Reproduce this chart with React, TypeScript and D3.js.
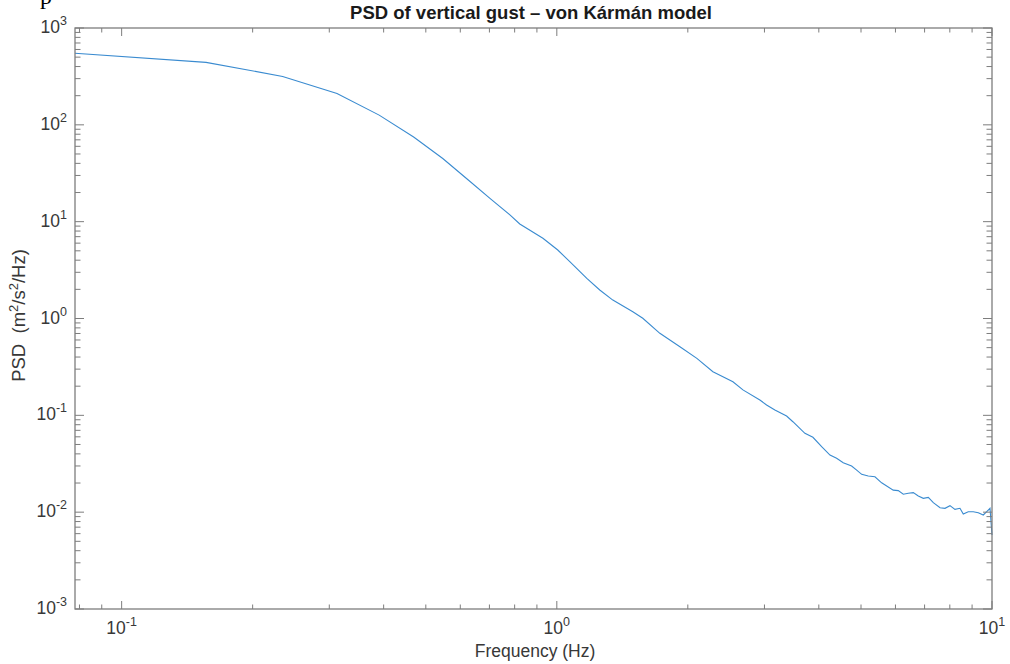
import React, { useRef, useEffect } from "react";
import * as d3 from "d3";

// PSD estimate (Hz, m^2/s^2/Hz)
const freq = [
  0.0781, 0.1563, 0.2344, 0.3125, 0.3906, 0.4688, 0.5469, 0.625, 0.7031, 0.7813,
  0.822, 0.929, 1.005, 1.071, 1.172, 1.255, 1.345, 1.495, 1.576, 1.725,
  1.918, 2.098, 2.284, 2.539, 2.677, 2.928, 3.034, 3.17, 3.373, 3.487,
  3.716, 3.877, 4.06, 4.243, 4.395, 4.551, 4.758, 4.887, 5.018, 5.195,
  5.383, 5.577, 5.93, 6.09, 6.254, 6.422, 6.594, 6.771, 6.953, 7.139,
  7.331, 7.596, 7.798, 8.006, 8.221, 8.441, 8.59, 8.82, 9.057, 9.301,
  9.55, 9.723, 9.895, 10,
];
const psd = [
  548, 442, 316, 211, 126, 74.9, 44.9, 27.1, 17.3, 11.7,
  9.46, 6.73, 5.1, 3.86, 2.6, 1.97, 1.55, 1.175, 1.005, 0.703,
  0.511, 0.388, 0.282, 0.222, 0.183, 0.144, 0.128, 0.1135, 0.0984, 0.0859,
  0.0652, 0.0593, 0.0474, 0.0389, 0.036, 0.0324, 0.03, 0.0272, 0.0246, 0.0236,
  0.0232, 0.0201, 0.0169, 0.0167, 0.0153, 0.0157, 0.0159, 0.0147, 0.0139, 0.0142,
  0.01253, 0.01112, 0.01096, 0.01167, 0.0107, 0.01096, 0.00957, 0.01011, 0.01011, 0.00987,
  0.00935, 0.01011, 0.01096, 0.0058,
];
const xDomain = [0.078125, 10];
const yDomain = [1e-3, 1e3];
const xMajor = [-1, 0, 1]; // exponents
const yMajor = [-3, -2, -1, 0, 1, 2, 3];

const title = "PSD of vertical gust \u2013 von K\u00e1rm\u00e1n model";
const xLabel = "Frequency (Hz)";

const W = 1010;
const H = 664;
const left = 75;
const right = 992;
const top = 28;
const bottom = 609;

const axisColor = "#7d7d7d";
const textColor = "#383838";
const font = "'Liberation Sans', Arial, Helvetica, sans-serif";

const PsdChart = () => {
  const ref = useRef<SVGSVGElement>(null);

  useEffect(() => {
    const svg = d3.select(ref.current);
    svg.selectAll("*").remove();

    const x = d3.scaleLog().domain(xDomain).range([left, right]);
    const y = d3.scaleLog().domain(yDomain).range([bottom, top]);

    const data = freq.map((f, i) => ({ f, v: psd[i] }));

    // stray glyph from the page above the figure (cut off at the top)
    svg
      .append("text")
      .attr("x", 40)
      .attr("y", 4)
      .attr("font-family", "'Liberation Serif', serif")
      .attr("font-size", 24)
      .attr("fill", "#000")
      .text("p");

    const line = d3
      .line<{ f: number; v: number }>()
      .x((d) => x(d.f))
      .y((d) => y(d.v))
      .curve(d3.curveLinear);

    svg
      .append("path")
      .datum(data)
      .attr("d", line)
      .attr("fill", "none")
      .attr("stroke", "#3a8bd0")
      .attr("stroke-width", 1.1);

    // frame
    svg
      .append("rect")
      .attr("x", left)
      .attr("y", top)
      .attr("width", right - left)
      .attr("height", bottom - top)
      .attr("fill", "none")
      .attr("stroke", axisColor)
      .attr("stroke-width", 1.3);

    const g = svg.append("g").attr("stroke", axisColor).attr("stroke-width", 1);

    // x ticks (bottom + top), inward
    const xt = x.ticks(20).filter((t) => t >= xDomain[0] && t <= xDomain[1]);
    xt.forEach((t) => {
      const isMajor = Math.abs(Math.log10(t) - Math.round(Math.log10(t))) < 1e-9;
      const len = isMajor ? 8 : 4.5;
      const px = x(t);
      g.append("line").attr("x1", px).attr("x2", px).attr("y1", bottom).attr("y2", bottom - len);
      g.append("line").attr("x1", px).attr("x2", px).attr("y1", top).attr("y2", top + len);
    });

    // y ticks (left + right), inward
    const yt = y.ticks(40).filter((t) => t >= yDomain[0] && t <= yDomain[1]);
    yt.forEach((t) => {
      const isMajor = Math.abs(Math.log10(t) - Math.round(Math.log10(t))) < 1e-9;
      const len = isMajor ? 9 : 5.5;
      const py = y(t);
      g.append("line").attr("x1", left).attr("x2", left + len).attr("y1", py).attr("y2", py);
      g.append("line").attr("x1", right).attr("x2", right - len).attr("y1", py).attr("y2", py);
    });

    // x tick labels
    xMajor.forEach((e) => {
      const t = svg
        .append("text")
        .attr("x", x(Math.pow(10, e)))
        .attr("y", 634)
        .attr("text-anchor", "middle")
        .attr("font-family", font)
        .attr("font-size", 17.5)
        .attr("fill", textColor);
      t.append("tspan").text("10");
      t.append("tspan").attr("dy", -8).attr("font-size", 12.5).text(String(e));
    });

    // y tick labels
    yMajor.forEach((e) => {
      const t = svg
        .append("text")
        .attr("x", 67)
        .attr("y", y(Math.pow(10, e)) + 5)
        .attr("text-anchor", "end")
        .attr("font-family", font)
        .attr("font-size", 17.5)
        .attr("fill", textColor);
      t.append("tspan").text("10");
      t.append("tspan").attr("dy", -8).attr("font-size", 12.5).text(String(e));
    });

    // title
    svg
      .append("text")
      .attr("x", 531)
      .attr("y", 19)
      .attr("text-anchor", "middle")
      .attr("font-family", font)
      .attr("font-size", 18.5)
      .attr("font-weight", "bold")
      .attr("fill", "#1a1a1a")
      .text(title);

    // x label
    svg
      .append("text")
      .attr("x", 535)
      .attr("y", 657)
      .attr("text-anchor", "middle")
      .attr("font-family", font)
      .attr("font-size", 17.5)
      .attr("fill", textColor)
      .text(xLabel);

    // y label
    const yl = svg
      .append("text")
      .attr("transform", `translate(25,${(top + bottom) / 2 - 3}) rotate(-90)`)
      .attr("text-anchor", "middle")
      .attr("font-family", font)
      .attr("font-size", 18.5)
      .attr("fill", textColor)
      .style("white-space", "pre");
    yl.append("tspan").text("PSD  (m");
    yl.append("tspan").attr("dy", -7).attr("font-size", 13).text("2");
    yl.append("tspan").attr("dy", 7).text("/s");
    yl.append("tspan").attr("dy", -7).attr("font-size", 13).text("2");
    yl.append("tspan").attr("dy", 7).text("/Hz)");
  }, []);

  return (
    <svg
      ref={ref}
      width={W}
      height={H}
      style={{ position: "absolute", left: 0, top: 0, background: "#fff" }}
    />
  );
};

export default function App() {
  return <PsdChart />;
}
